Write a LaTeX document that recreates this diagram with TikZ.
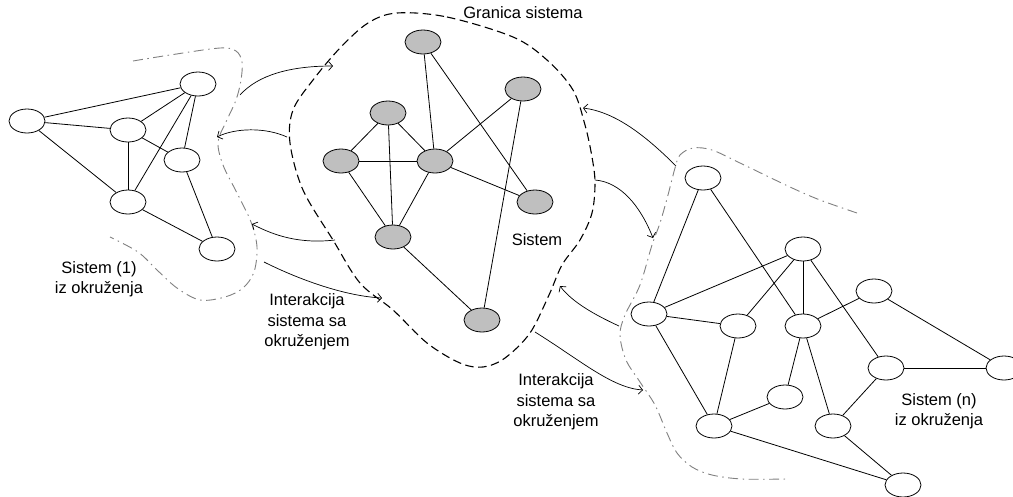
\documentclass[tikz,border=0pt]{standalone}
\usepackage{fontspec}
\setmainfont{Liberation Sans}
\usetikzlibrary{shapes.geometric,arrows.meta}

\begin{document}
\begin{tikzpicture}[x=1pt,y=-1pt,
  vtx/.style={draw,ellipse,minimum width=36pt,minimum height=24pt,inner sep=0pt,line width=0.8pt,fill=white},
  core/.style={vtx,fill=black!25},
  link/.style={line width=0.8pt},
  flow/.style={line width=0.7pt,-{Straight Barb[length=4pt,width=9pt]}},
  rim/.style={line width=1.1pt,dash pattern=on 8.5pt off 4.5pt},
  envline/.style={black!50,line width=0.9pt,dash pattern=on 10pt off 4.5pt on 1.5pt off 4.5pt},
  lbl/.style={font=\fontsize{16.5}{20.5}\selectfont,align=center,inner sep=0pt}]
\useasboundingbox (0,0) rectangle (1013,496);
\clip (0,0) rectangle (1013,496);

% system boundary
\draw[rim] plot[smooth cycle,tension=0.55] coordinates {
  (397,13) (447,17) (513,37) (547,60) (573,90) (585,125) (592,157) (595,183)
  (592,213) (580,240) (562,265) (549,295) (530,333) (505,358) (483,367)
  (460,363) (427,343) (393,310) (360,283) (333,240) (303,190) (290,143)
  (293,110) (313,80) (340,48) (368,23)};

% environment boundaries
\draw[envline] plot[smooth,tension=0.55] coordinates {
  (133,61) (170,55) (220,48) (236,51) (242,62) (241,80) (236,100) (226,122)
  (218,142) (223,165) (237,193) (251,222) (257,247) (254,272) (243,288)
  (225,297) (200,300) (177,288) (157,270) (138,252) (110,237)};
\draw[envline] plot[smooth,tension=0.55] coordinates {
  (857,213) (820,200) (790,187) (740,163) (712,150) (693,148) (680,155)
  (675,168) (668,195) (660,223) (652,245) (640,285) (625,315) (620,335)
  (626,360) (640,382) (655,405) (667,433) (677,453) (692,467) (712,475)
  (742,479) (787,479)};

% environment system (1)
\node[vtx] (l1) at (27,121) {};
\node[vtx] (l2) at (198,84) {};
\node[vtx] (l3) at (128,130) {};
\node[vtx] (l4) at (182,160) {};
\node[vtx] (l5) at (128,202) {};
\node[vtx] (l6) at (217,249) {};
\foreach \a/\b in {l1/l2,l1/l3,l1/l5,l3/l2,l3/l4,l3/l5,l2/l5,l2/l4,l4/l6,l5/l6}
  \draw[link] (\a) -- (\b);

% the system
\node[core] (c1) at (423,42) {};
\node[core] (c2) at (523,89) {};
\node[core] (c3) at (388,113) {};
\node[core] (c4) at (341,161) {};
\node[core] (c5) at (435,161) {};
\node[core] (c6) at (535,202) {};
\node[core] (c7) at (393,237) {};
\node[core] (c8) at (482,320) {};
\foreach \a/\b in {c1/c5,c1/c6,c2/c5,c2/c8,c3/c4,c3/c5,c3/c7,c4/c5,c4/c7,c5/c7,c5/c6,c7/c8}
  \draw[link] (\a) -- (\b);

% environment system (n)
\node[vtx] (r1) at (703,178) {};
\node[vtx] (r2) at (803,249) {};
\node[vtx] (r3) at (649,314) {};
\node[vtx] (r4) at (738,326) {};
\node[vtx] (r5) at (803,326) {};
\node[vtx] (r6) at (874,291) {};
\node[vtx] (r7) at (886,368) {};
\node[vtx] (r8) at (1004,368) {};
\node[vtx] (r9) at (785,397) {};
\node[vtx] (r10) at (714,426) {};
\node[vtx] (r11) at (833,426) {};
\node[vtx] (r12) at (903,485) {};
\foreach \a/\b in {r1/r3,r1/r5,r2/r3,r2/r4,r2/r5,r2/r7,r3/r4,r3/r10,r4/r10,
  r5/r6,r5/r9,r5/r11,r6/r8,r7/r8,r7/r11,r9/r10,r10/r12,r11/r12}
  \draw[link] (\a) -- (\b);

% interaction arrows
\coordinate (a1s) at (240,95);   \coordinate (a1e) at (333,66);
\coordinate (a2s) at (287,137);  \coordinate (a2e) at (217,137);
\coordinate (a3s) at (335,240);  \coordinate (a3e) at (252,224);
\coordinate (a4s) at (264,262);  \coordinate (a4e) at (382,298);
\coordinate (a5s) at (676,166);  \coordinate (a5e) at (583,108);
\coordinate (a6s) at (595,180);  \coordinate (a6e) at (653,238);
\coordinate (a7s) at (619,326);  \coordinate (a7e) at (560,286);
\coordinate (a8s) at (535,332);  \coordinate (a8e) at (643,390);
\draw[flow] (a1s) .. controls (258,75) and (290,66) .. (a1e);
\draw[flow] (a2s) .. controls (265,127) and (235,128) .. (a2e);
\draw[flow] (a3s) .. controls (300,244) and (275,236) .. (a3e);
\draw[flow] (a4s) .. controls (300,280) and (345,296) .. (a4e);
\draw[flow] (a5s) .. controls (645,135) and (615,112) .. (a5e);
\draw[flow] (a6s) .. controls (620,182) and (640,205) .. (a6e);
\draw[flow] (a7s) .. controls (595,315) and (572,302) .. (a7e);
\draw[flow] (a8s) .. controls (580,360) and (612,388) .. (a8e);

% labels
\node[lbl] (tg) at (523,13) {Granica sistema};
\node[lbl] (ts) at (537,240) {Sistem};
\node[lbl] (t1) at (99,279) {Sistem (1)\\iz okruženja};
\node[lbl] (tn) at (939,411) {Sistem (n)\\iz okruženja};
\node[lbl] (ti1) at (307,322) {Interakcija\\sistema sa\\okruženjem};
\node[lbl] (ti2) at (556,402) {Interakcija\\sistema sa\\okruženjem};
\end{tikzpicture}
\end{document}
